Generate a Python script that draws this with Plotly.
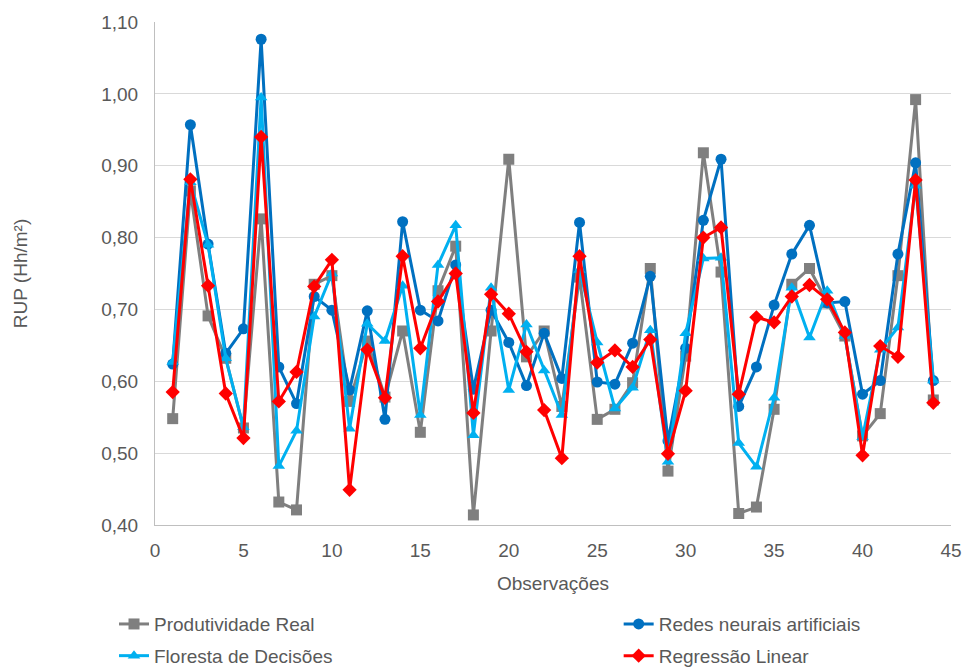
import plotly.graph_objects as go

obs = list(range(1, 45))

produtividade_real = [0.548, 0.865, 0.691, 0.632, 0.535, 0.826, 0.432, 0.421, 0.735, 0.747,
                      0.572, 0.656, 0.578, 0.670, 0.529, 0.726, 0.788, 0.414, 0.670, 0.909,
                      0.634, 0.670, 0.565, 0.745, 0.547, 0.561, 0.598, 0.757, 0.475, 0.635,
                      0.918, 0.752, 0.416, 0.425, 0.561, 0.735, 0.757, 0.709, 0.663, 0.524,
                      0.555, 0.747, 0.992, 0.574]

redes_neurais = [0.624, 0.957, 0.791, 0.639, 0.673, 1.076, 0.620, 0.569, 0.718, 0.699,
                 0.588, 0.698, 0.547, 0.822, 0.699, 0.684, 0.762, 0.589, 0.699, 0.654,
                 0.594, 0.667, 0.604, 0.821, 0.599, 0.596, 0.653, 0.746, 0.517, 0.646,
                 0.824, 0.909, 0.565, 0.620, 0.706, 0.777, 0.817, 0.709, 0.711, 0.582,
                 0.601, 0.777, 0.904, 0.601]

floresta = [0.627, 0.877, 0.790, 0.632, 0.536, 0.995, 0.482, 0.531, 0.690, 0.750,
            0.534, 0.680, 0.656, 0.733, 0.553, 0.762, 0.817, 0.525, 0.730, 0.588,
            0.679, 0.615, 0.553, 0.755, 0.654, 0.562, 0.591, 0.671, 0.488, 0.667,
            0.771, 0.772, 0.514, 0.481, 0.577, 0.730, 0.661, 0.726, 0.663, 0.522,
            0.644, 0.675, 0.872, 0.601]

regressao = [0.585, 0.881, 0.733, 0.583, 0.521, 0.940, 0.572, 0.613, 0.732, 0.769,
             0.449, 0.644, 0.577, 0.774, 0.646, 0.711, 0.750, 0.556, 0.721, 0.694,
             0.641, 0.560, 0.493, 0.774, 0.626, 0.643, 0.620, 0.658, 0.499, 0.587,
             0.800, 0.814, 0.582, 0.689, 0.682, 0.718, 0.734, 0.714, 0.668, 0.497,
             0.649, 0.634, 0.880, 0.570]

series = [
    ("Produtividade Real", produtividade_real, "#7F7F7F", "square", "legend"),
    ("Redes neurais artificiais", redes_neurais, "#0070C0", "circle", "legend2"),
    ("Floresta de Decisões", floresta, "#00B0F0", "triangle-up", "legend"),
    ("Regressão Linear", regressao, "#FF0000", "diamond", "legend2"),
]

FONT = "Liberation Sans, Arial, sans-serif"
TXT = "#595959"
FS = 19

fig = go.Figure()
for i, (name, vals, color, sym, lg) in enumerate(series):
    fig.add_trace(go.Scatter(
        x=obs, y=vals, name=name, mode="lines+markers",
        line=dict(color=color, width=3),
        marker=dict(symbol=sym, size=11, color=color),
        legend=lg, legendgroup=f"g{i}",
    ))

legend_common = dict(
    orientation="v", yanchor="top", xanchor="left",
    xref="paper", yref="container",
    font=dict(family=FONT, size=FS, color=TXT),
    bgcolor="rgba(0,0,0,0)", tracegroupgap=4, itemwidth=30,
)

fig.update_layout(
    width=974, height=669,
    margin=dict(l=155, r=19, t=21, b=144),
    paper_bgcolor="white", plot_bgcolor="white",
    separators=",.",
    font=dict(family=FONT, size=FS, color=TXT),
    legend=dict(x=-0.0515, y=0.0955, **legend_common),
    legend2=dict(x=0.5825, y=0.0955, **legend_common),
    xaxis=dict(
        range=[0, 45], dtick=5, tick0=0, showgrid=False,
        showline=True, linecolor="#BFBFBF", linewidth=1,
        ticks="", ticklabelstandoff=8,
        title=dict(text="Observações", standoff=16, font=dict(size=FS, color=TXT)),
        zeroline=False,
    ),
    yaxis=dict(
        range=[0.40, 1.10], dtick=0.1, tick0=0.4, tickformat=".2f",
        showgrid=True, gridcolor="#D9D9D9", gridwidth=1,
        showline=True, linecolor="#BFBFBF", linewidth=1,
        ticks="", ticklabelstandoff=12,
        title=dict(text="RUP (Hh/m²)", standoff=68, font=dict(size=FS, color=TXT)),
        zeroline=False,
    ),
)

fig.write_html("out.html")
